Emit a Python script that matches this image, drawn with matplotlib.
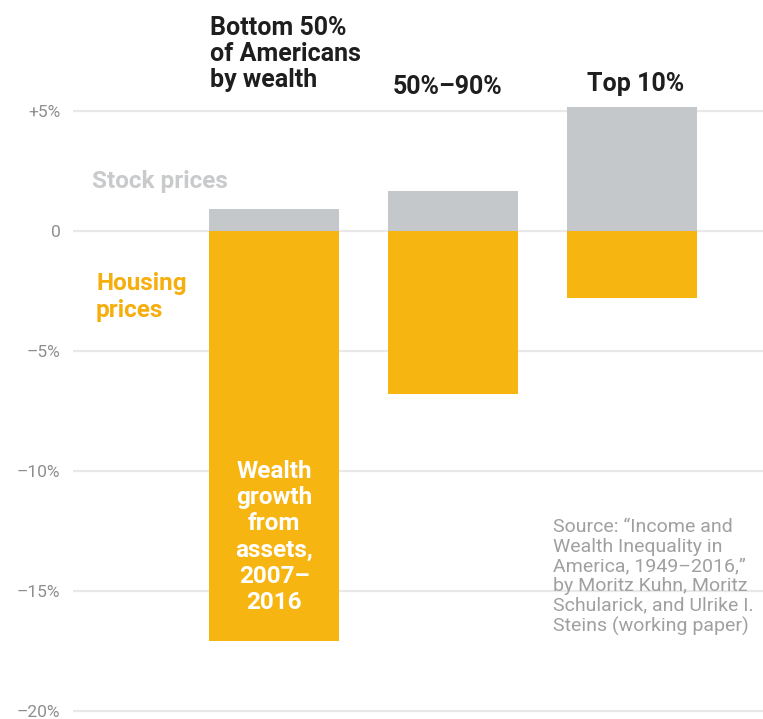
import matplotlib
matplotlib.use("Agg")
import matplotlib.pyplot as plt

categories = ["Bottom 50%\nof Americans\nby wealth", "50%–90%", "Top 10%"]
stock_prices = [0.9, 1.65, 5.15]
housing_prices = [-17.1, -6.8, -2.8]
tick_values = [5, 0, -5, -10, -15, -20]
tick_labels = ["+5%", "0", "–5%", "–10%", "–15%", "–20%"]

GRAY = "#c5c8cb"
ORANGE = "#f7b511"
FONT = ["Roboto", "DejaVu Sans"]

fig = plt.figure(figsize=(7.63, 7.19), dpi=100)
ax = fig.add_axes([73 / 763, 0, 690 / 763, 1])
ax.set_xlim(-1.123, 2.732)
ax.set_ylim(-20.33, 9.625)
for s in ax.spines.values():
    s.set_visible(False)
ax.set_xticks([])
ax.set_yticks(tick_values)
ax.set_yticklabels(tick_labels, fontfamily=FONT, fontsize=12.5, color="#8e8e8e")
ax.tick_params(axis="y", length=0, pad=9)
ax.yaxis.grid(True, color="#e9e9e9", linewidth=1.6)
ax.set_axisbelow(True)

x = list(range(len(categories)))
w = 0.726
ax.bar(x, stock_prices, width=w, color=GRAY, zorder=2)
ax.bar(x, housing_prices, width=w, color=ORANGE, zorder=2)

# category headers
ax.text(-0.358, 8.95, categories[0], ha="left", va="top", fontsize=18,
        fontweight="bold", color="#1e1e1e", fontfamily=FONT, linespacing=1.1)
ax.text(0.665, 6.0, categories[1], ha="left", va="center", fontsize=18,
        fontweight="bold", color="#1e1e1e", fontfamily=FONT)
ax.text(1.749, 6.125, categories[2], ha="left", va="center", fontsize=18,
        fontweight="bold", color="#1e1e1e", fontfamily=FONT)

# series labels
ax.text(-1.017, 2.08, "Stock prices", ha="left", va="center", fontsize=17.5,
        fontweight="bold", color="#c9cacc", fontfamily=FONT)
ax.text(-0.994, -2.75, "Housing\nprices", ha="left", va="center", fontsize=17.5,
        fontweight="bold", color="#f5ae0c", fontfamily=FONT, linespacing=1.2)

# in-bar label
ax.text(0, -12.75, "Wealth\ngrowth\nfrom\nassets,\n2007–\n2016", ha="center",
        va="center", fontsize=17.5, fontweight="bold", color="white",
        fontfamily=FONT, linespacing=1.18)

# source
ax.text(1.559, -11.95,
        "Source: “Income and\nWealth Inequality in\nAmerica, 1949–2016,”\n"
        "by Moritz Kuhn, Moritz\nSchularick, and Ulrike I.\nSteins (working paper)",
        ha="left", va="top", fontsize=14, color="#a0a0a0",
        fontfamily=FONT, fontweight="normal", linespacing=1.12)

fig.savefig("out.png", dpi=100)
